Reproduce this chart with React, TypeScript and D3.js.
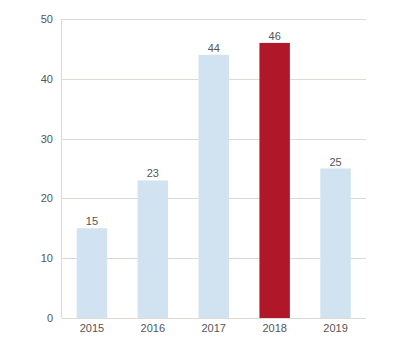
import React from "react";
import * as d3 from "d3";

const years = ["2015", "2016", "2017", "2018", "2019"];
const values = [15, 23, 44, 46, 25];
const highlightYear = "2018";
const yTicks = [0, 10, 20, 30, 40, 50];

export default function App() {
  const W = 400, H = 355;
  const left = 61.5, right = 366, top = 19, bottom = 318;
  const x = d3.scaleBand<string>().domain(years).range([left, right]).paddingInner(0.5).paddingOuter(0.25);
  const y = d3.scaleLinear().domain([0, 50]).range([bottom, top]);
  const font = "Arial, 'Liberation Sans', sans-serif";
  return (
    <svg width={W} height={H} style={{ position: "absolute", left: 0, top: 0 }}>
      <rect width={W} height={H} fill="#fff" />
      {yTicks.map((t) => (
        <g key={t}>
          {t > 0 && (
            <line x1={left} x2={right} y1={Math.round(y(t)) + 0.5} y2={Math.round(y(t)) + 0.5} stroke="#dcdbd3" />
          )}
          <text x={53} y={y(t) + 4} textAnchor="end" fontFamily={font} fontSize={11} fill="#555">
            {t}
          </text>
        </g>
      ))}
      {years.map((yr, i) => (
        <g key={yr}>
          <rect
            x={x(yr)}
            y={y(values[i])}
            width={x.bandwidth()}
            height={bottom - y(values[i])}
            fill={yr === highlightYear ? "#b0182a" : "#d1e3f0"}
          />
          <text x={(x(yr) as number) + x.bandwidth() / 2} y={y(values[i]) - 3} textAnchor="middle" fontFamily={font} fontSize={11} fill="#555">
            {values[i]}
          </text>
          <text x={(x(yr) as number) + x.bandwidth() / 2} y={332} textAnchor="middle" fontFamily={font} fontSize={11} fill="#555">
            {yr}
          </text>
        </g>
      ))}
      <line x1={left} x2={left} y1={top} y2={bottom} stroke="#dcdbd3" />
      <line x1={left} x2={right} y1={bottom + 0.5} y2={bottom + 0.5} stroke="#dcdbd3" />
    </svg>
  );
}
